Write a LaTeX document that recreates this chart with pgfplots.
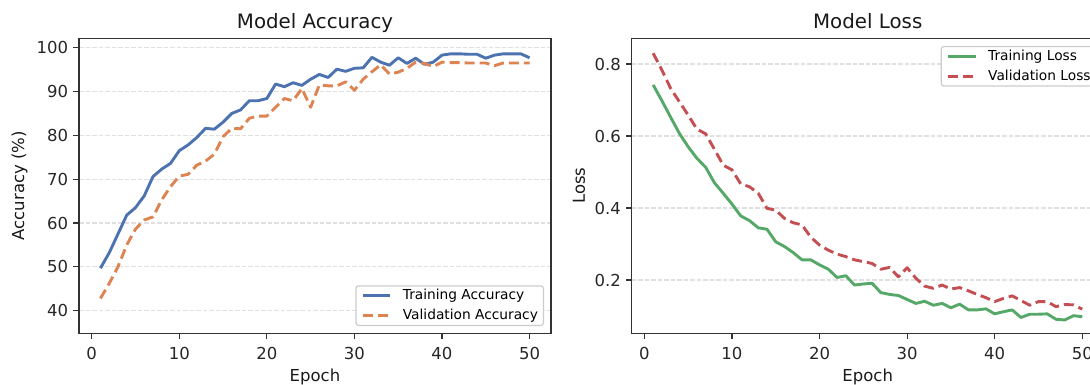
\documentclass[border=0pt]{standalone}
\usepackage{fontspec}
\setmainfont{DejaVu Sans}
\usepackage{pgfplots}
\pgfplotsset{compat=1.18}
\usepackage{pgfplotstable}
\definecolor{cblue}{HTML}{4C72B0}
\definecolor{corange}{HTML}{DD8452}
\definecolor{cgreen}{HTML}{55A868}
\definecolor{cred}{HTML}{C44E52}
\definecolor{spine}{HTML}{333333}

\pgfplotstableread{
ep tacc vacc
1 49.7 42.8
2 53.2 46.2
3 57.5 50.0
4 61.8 55.0
5 63.5 58.6
6 66.2 60.7
7 70.6 61.4
8 72.3 65.3
9 73.6 68.3
10 76.5 70.7
11 77.8 71.1
12 79.5 73.2
13 81.6 74.1
14 81.4 75.7
15 83.0 79.7
16 85.0 81.6
17 85.8 81.5
18 87.9 83.9
19 87.9 84.4
20 88.4 84.4
21 91.7 86.4
22 91.1 88.4
23 92.0 87.9
24 91.4 90.7
25 92.8 86.4
26 93.9 91.5
27 93.2 91.3
28 95.1 91.3
29 94.6 92.2
30 95.3 90.3
31 95.4 92.8
32 97.8 94.5
33 96.7 96.1
34 96.0 94.0
35 97.7 94.4
36 96.4 95.3
37 97.6 96.7
38 96.2 96.4
39 96.7 95.7
40 98.3 96.7
41 98.6 96.6
42 98.6 96.6
43 98.5 96.5
44 98.5 96.5
45 97.6 96.5
46 98.3 95.9
47 98.6 96.5
48 98.6 96.5
49 98.6 96.5
50 97.7 96.5
}\acctable

\pgfplotstableread{
ep tloss vloss
1 0.742 0.830
2 0.698 0.783
3 0.652 0.732
4 0.607 0.695
5 0.570 0.658
6 0.538 0.619
7 0.513 0.606
8 0.470 0.563
9 0.441 0.519
10 0.411 0.506
11 0.378 0.467
12 0.365 0.459
13 0.345 0.441
14 0.341 0.399
15 0.306 0.394
16 0.293 0.371
17 0.276 0.359
18 0.256 0.353
19 0.256 0.319
20 0.242 0.297
21 0.230 0.283
22 0.207 0.272
23 0.212 0.265
24 0.186 0.256
25 0.189 0.251
26 0.191 0.246
27 0.165 0.230
28 0.160 0.235
29 0.157 0.209
30 0.146 0.234
31 0.135 0.205
32 0.141 0.183
33 0.130 0.177
34 0.135 0.186
35 0.123 0.175
36 0.133 0.179
37 0.117 0.170
38 0.117 0.160
39 0.120 0.151
40 0.106 0.140
41 0.112 0.149
42 0.117 0.156
43 0.096 0.143
44 0.105 0.130
45 0.105 0.140
46 0.106 0.140
47 0.091 0.126
48 0.089 0.132
49 0.101 0.131
50 0.098 0.119
}\losstable

\pgfplotsset{
  myaxis/.style={
    scale only axis, width=472pt, height=295pt,
    xmin=-1.45, xmax=52.45,
    xtick={0,10,20,30,40,50},
    axis line style={draw=spine, line width=1.3pt},
    every tick/.style={draw=spine, line width=1.2pt},
    major tick length=5.8pt,
    tick align=outside,
    xtick pos=left, ytick pos=left,
    ymajorgrids,
    major grid style={draw=black!12, line width=1.3pt, dash pattern=on 4.5pt off 2pt},
    tick label style={font=\fontsize{16.5}{19}\selectfont, text=black!85, inner sep=0pt},
    /pgf/number format/assume math mode=true,
    xticklabel style={anchor=north, yshift=-7.6pt},
    yticklabel style={anchor=east, xshift=-4.9pt},
    every axis title/.style={at={(0.5,1)}, anchor=base, yshift=9.3pt, inner sep=0pt, font=\fontsize{19.8}{23}\selectfont, text=black!90},
    every axis x label/.style={at={(axis description cs:0.5,0)}, anchor=base, yshift=-47.7pt, inner sep=0pt, font=\fontsize{16.5}{19}\selectfont, text=black!90},
    legend style={font=\fontsize{13.75}{16}\selectfont, draw=black!20, line width=1.2pt, rounded corners=2.5pt, fill=white,
      inner xsep=5.5pt, inner ysep=3pt,
      nodes={inner sep=0pt, text height=10.5pt, text depth=3pt, anchor=base west},
      column sep=11pt, row sep=6.5pt},
    legend cell align=left,
    legend image code/.code={\draw[##1] (0pt,3.5pt) -- (27.5pt,3.5pt);},
  },
  trainline/.style={line width=2.9pt, line join=round},
  valline/.style={line width=2.9pt, line join=round, dash pattern=on 10pt off 5pt},
}

\begin{document}
\begin{tikzpicture}
\begin{axis}[myaxis, name=acc,
  at={(79pt,-333.3pt)}, anchor=south west,
  ymin=34.84, ymax=102.14,
  ytick={40,50,60,70,80,90,100},
  title={Model Accuracy},
  xlabel={Epoch},
  every axis y label/.style={at={(axis description cs:-0.126,0.5)}, rotate=90, anchor=center, inner sep=0pt, font=\fontsize{16.5}{19}\selectfont, text=black!90},
  ylabel={Accuracy (\%)},
  legend style={at={(1,0)}, anchor=south east, xshift=-7pt, yshift=7.3pt},
]
\addplot[trainline, cblue] table[x=ep, y=tacc] {\acctable};
\addlegendentry{Training Accuracy}
\addplot[valline, corange] table[x=ep, y=vacc] {\acctable};
\addlegendentry{Validation Accuracy}
\end{axis}

\begin{axis}[myaxis, name=loss,
  at={(631.7pt,-333.3pt)}, anchor=south west,
  ymin=0.052, ymax=0.8714,
  ytick={0.2,0.4,0.6,0.8},
  yticklabel style={/pgf/number format/fixed, /pgf/number format/precision=1, /pgf/number format/fixed zerofill},
  title={Model Loss},
  xlabel={Epoch},
  every axis y label/.style={at={(axis description cs:-0.1115,0.5)}, rotate=90, anchor=center, inner sep=0pt, font=\fontsize{16.5}{19}\selectfont, text=black!90},
  ylabel={Loss},
  legend style={at={(1,1)}, anchor=north east, xshift=-7pt, yshift=-7.7pt},
]
\addplot[trainline, cgreen] table[x=ep, y=tloss] {\losstable};
\addlegendentry{Training Loss}
\addplot[valline, cred] table[x=ep, y=vloss] {\losstable};
\addlegendentry{Validation Loss}
\end{axis}
\draw[spine, line width=1.3pt] (acc.south west) rectangle (acc.north east);
\draw[spine, line width=1.3pt] (loss.south west) rectangle (loss.north east);
\pgfresetboundingbox
\useasboundingbox (0pt,0pt) rectangle (1090pt,-385pt);
\end{tikzpicture}
\end{document}
